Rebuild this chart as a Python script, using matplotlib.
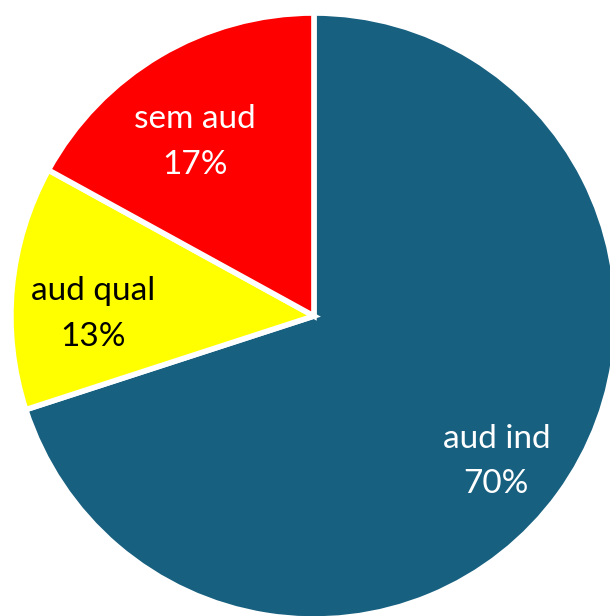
import matplotlib
matplotlib.use("Agg")
import matplotlib.pyplot as plt
import numpy as np

categories = ["aud ind", "aud qual", "sem aud"]
values = [70, 13, 17]
colors = ["#17607F", "#FFFF00", "#FF0000"]
text_colors = ["white", "black", "white"]

fig = plt.figure(figsize=(6.10, 6.16), dpi=100)
ax = fig.add_axes([0, 0, 1, 1])
wedges, _ = ax.pie(values, colors=colors, startangle=90, counterclock=False,
                   radius=1.0, center=(0, 0),
                   wedgeprops=dict(edgecolor="white", linewidth=4))
ax.set_xlim(-1.036, 0.977)
ax.set_ylim(-0.990, 1.043)
ax.set_aspect("auto")
ax.axis("off")

label_r = [0.770, 0.729, 0.697]
label_dang = [-2.56, 4.9, 3.8]
for w, cat, v, tc, r, da in zip(wedges, categories, values, text_colors, label_r, label_dang):
    mid = np.deg2rad((w.theta1 + w.theta2) / 2 + da)
    ax.text(r * np.cos(mid), r * np.sin(mid), f"{cat}\n{v}%", ha="center", va="center",
            color=tc, fontsize=24, family=["Lato", "DejaVu Sans"], linespacing=1.65)

fig.savefig("out.png", dpi=100)
